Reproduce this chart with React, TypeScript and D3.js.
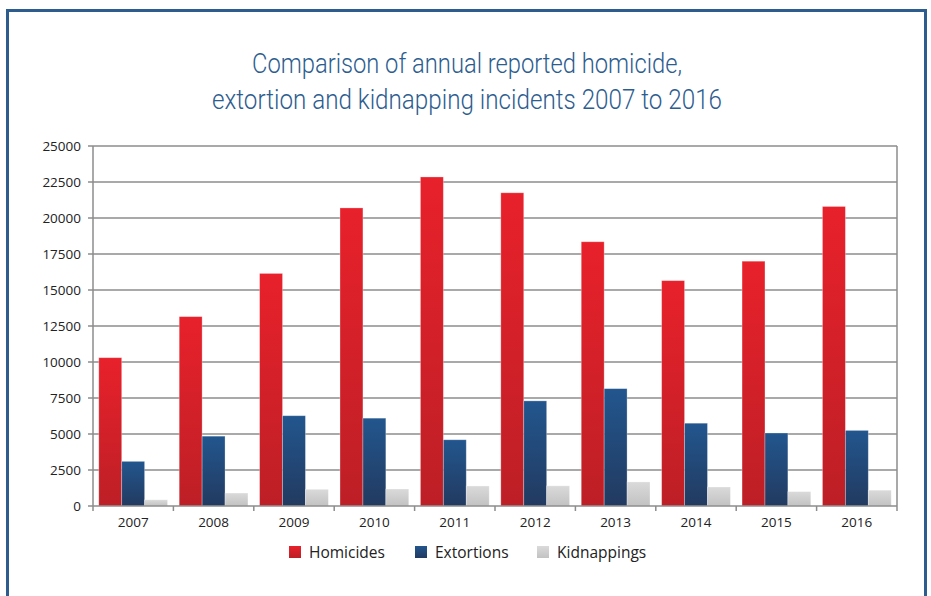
import React from 'react';
import * as d3 from 'd3';

const WIDTH = 931;
const HEIGHT = 596;
const MARGIN = { top: 146, right: 34, bottom: 90, left: 93 };

const years = ['2007', '2008', '2009', '2010', '2011', '2012', '2013', '2014', '2015', '2016'];
const homicides = [10300, 13150, 16150, 20700, 22850, 21750, 18350, 15650, 17000, 20800];
const extortions = [3100, 4850, 6270, 6100, 4600, 7300, 8150, 5750, 5070, 5250];
const kidnappings = [430, 900, 1160, 1180, 1390, 1400, 1670, 1320, 1000, 1100];
const yTicks = [0, 2500, 5000, 7500, 10000, 12500, 15000, 17500, 20000, 22500, 25000];

const seriesNames = ['Homicides', 'Extortions', 'Kidnappings'];
const seriesValues = [homicides, extortions, kidnappings];
const gradients = [
  { id: 'gRed', top: '#e8212b', bottom: '#bd1f26' },
  { id: 'gBlue', top: '#22568e', bottom: '#223a60' },
  { id: 'gGray', top: '#dadada', bottom: '#c2c2c2' },
];

const FONT = "'Open Sans', 'Liberation Sans', sans-serif";
const BLUE = '#2d5d8f';

export default function App() {
  const boundsWidth = WIDTH - MARGIN.left - MARGIN.right;
  const boundsHeight = HEIGHT - MARGIN.top - MARGIN.bottom;

  const xScale = d3.scaleBand().domain(years).range([0, boundsWidth]).paddingInner(0.145).paddingOuter(0.072);
  const inner = d3.scaleBand().domain(seriesNames).range([0, xScale.bandwidth()]);
  const yScale = d3.scaleLinear().domain([0, 25000]).range([boundsHeight, 0]);
  const step = boundsWidth / years.length;

  return (
    <div style={{ position: 'absolute', left: 0, top: 0 }}>
      <svg width={WIDTH} height={HEIGHT} style={{ display: 'block', background: '#fff' }}>
        <defs>
          {gradients.map((g) => (
            <linearGradient key={g.id} id={g.id} x1="0" y1="0" x2="0" y2="1">
              <stop offset="0%" stopColor={g.top} />
              <stop offset="100%" stopColor={g.bottom} />
            </linearGradient>
          ))}
        </defs>

        {/* outer frame */}
        <path d={`M7.5,${HEIGHT + 5} V10.5 H925.5 V${HEIGHT + 5}`} fill="none" stroke={BLUE} strokeWidth={3} />

        <g fill={BLUE} fontFamily="Roboto, sans-serif" fontWeight={300} fontSize={28} textAnchor="middle">
          <text x={467} y={73} textLength={430} lengthAdjust="spacingAndGlyphs">Comparison of annual reported homicide,</text>
          <text x={467} y={109} textLength={510} lengthAdjust="spacingAndGlyphs">extortion and kidnapping incidents 2007 to 2016</text>
        </g>

        <g transform={`translate(${MARGIN.left},${MARGIN.top})`}>
          {yTicks.map((t) => (
            <g key={t} transform={`translate(0,${yScale(t)})`}>
              {t > 0 && <line x1={0} x2={boundsWidth} stroke="#8c8c8c" strokeWidth={1.5} />}
              <line x1={-5} x2={0} stroke="#8c8c8c" strokeWidth={1.5} />
              <text x={-12} dy="0.35em" textAnchor="end" fontFamily={FONT} fontSize={13.5} fill="#222">{t}</text>
            </g>
          ))}
          <line x1={boundsWidth} x2={boundsWidth} y1={0} y2={boundsHeight} stroke="#8c8c8c" strokeWidth={1.5} />

          {years.map((yr, i) => (
            <g key={yr} transform={`translate(${xScale(yr)},0)`}>
              {seriesValues.map((vals, s) => (
                <rect
                  key={s}
                  x={inner(seriesNames[s])}
                  width={inner.bandwidth()}
                  y={yScale(vals[i])}
                  height={boundsHeight - yScale(vals[i])}
                  fill={`url(#${gradients[s].id})`}
                  stroke="rgba(255,255,255,0.35)"
                  strokeWidth={0.8}
                />
              ))}
            </g>
          ))}

          {/* x axis */}
          <line x1={0} x2={boundsWidth} y1={boundsHeight} y2={boundsHeight} stroke="#8c8c8c" strokeWidth={1.5} />
          <line x1={0} x2={0} y1={0} y2={boundsHeight + 5} stroke="#8c8c8c" strokeWidth={1.5} />
          {years.map((yr, i) => (
            <g key={yr}>
              <line x1={step * (i + 1)} x2={step * (i + 1)} y1={boundsHeight} y2={boundsHeight + 5} stroke="#8c8c8c" strokeWidth={1.5} />
              <text x={step * i + step / 2} y={boundsHeight + 21} textAnchor="middle" fontFamily={FONT} fontSize={13.5} fill="#222">{yr}</text>
            </g>
          ))}
        </g>

        {/* legend */}
        <g fontFamily={FONT} fontSize={15.5} fill="#222">
          {seriesNames.map((name, s) => {
            const x = [289, 415, 537][s];
            return (
              <g key={name} transform={`translate(${x},546)`}>
                <rect width={12} height={12} fill={`url(#${gradients[s].id})`} />
                <text x={20} y={11.5}>{name}</text>
              </g>
            );
          })}
        </g>
      </svg>
    </div>
  );
}
